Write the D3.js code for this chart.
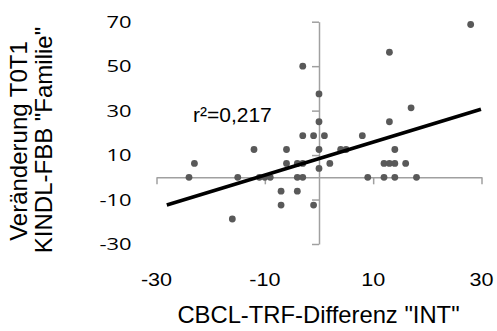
<!DOCTYPE html>
<html>
<head>
<meta charset="utf-8">
<script src="https://cdn.jsdelivr.net/npm/d3@7/dist/d3.min.js"></script>
<style>
  html, body { margin: 0; padding: 0; background: #fff; }
  svg { display: block; }
</style>
</head>
<body>
<svg id="chart" width="497" height="331"></svg>
<script>
// CBCL-TRF difference (INT) vs. change T0->T1 in KINDL-FBB "Familie"
const xVals = [28, 13, -3, 0, 17, 0, 13, -3, -1, 1, 8, -12, -6, 0, 4, 5, 14,
               -23, -6, -4, -3, 2, 12, 13, 14, 16, 0,
               -24, -15, -11, -10, -9, -4, -3, 9, 12, 14, 18,
               -7, -4, -7, -1, -16];
const yVals = [68.75, 56.25, 50, 37.5, 31.25, 25, 25, 18.75, 18.75, 18.75, 18.75,
               12.5, 12.5, 12.5, 12.5, 12.5, 12.5,
               6.25, 6.25, 6.25, 6.25, 6.25, 6.25, 6.25, 6.25, 6.25, 4,
               0, 0, 0, 0, 0, 0, 0, 0, 0, 0, 0,
               -6.25, -6.25, -12.5, -12.5, -18.75];

// Linear trend line
const trendSlope = 0.743;
const trendIntercept = 8.4;
const trendXRange = [-28.1, 29.9];
const rSquaredLabel = "r²=0,217";

const xTicks = [-30, -10, 10, 30];
const yTicks = [-30, -10, 10, 30, 50, 70];
const xTitle = 'CBCL-TRF-Differenz "INT"';
const yTitleLines = ["Veränderung T0T1", 'KINDL-FBB "Familie"'];

const svg = d3.select("#chart");
const axisColor = "#a0a0a0";
const dotColor = "#595959";
const sans = "'Liberation Sans', Arial, sans-serif";

const x = d3.scaleLinear().domain([-30, 30]).range([156.5, 481.5]);
const y = d3.scaleLinear().domain([-30, 70]).range([244, 21.7]);

// Axes crossing at the origin
const xAxis = d3.axisBottom(x).tickValues(xTicks).tickSize(7).tickSizeOuter(0).tickFormat("");
const yAxis = d3.axisLeft(y).tickValues(yTicks).tickSize(7).tickSizeOuter(0).tickFormat("");

const gx = svg.append("g").attr("transform", `translate(0,${y(0)})`).call(xAxis);
const gy = svg.append("g").attr("transform", `translate(${x(0)},0)`).call(yAxis);
[gx, gy].forEach(g => {
  g.select(".domain").attr("stroke", axisColor).attr("stroke-width", 1.5);
  g.selectAll(".tick line").attr("stroke", axisColor).attr("stroke-width", 1.5);
});

// Tick labels (outside the plot)
svg.append("g").selectAll("text").data(xTicks).join("text")
  .attr("transform", d => `translate(${x(d)},286) scale(1.2,1)`)
  .attr("text-anchor", "middle")
  .attr("font-family", sans)
  .attr("font-size", 18)
  .attr("fill", "#000")
  .text(d => d);

svg.append("g").selectAll("text").data(yTicks).join("text")
  .attr("transform", d => `translate(131.5,${y(d) + 6.3}) scale(1.29,1)`)
  .attr("text-anchor", "end")
  .attr("font-family", "'Open Sans', sans-serif")
  .attr("font-size", 17)
  .attr("fill", "#000")
  .text(d => d);

// Scatter points
const pts = xVals.map((v, i) => ({ x: v, y: yVals[i] }));
svg.append("g").selectAll("circle").data(pts).join("circle")
  .attr("cx", d => x(d.x))
  .attr("cy", d => y(d.y))
  .attr("r", 3.4)
  .attr("fill", dotColor);

// Trend line
const line = d3.line().x(d => x(d)).y(d => y(trendSlope * d + trendIntercept));
svg.append("path")
  .datum(trendXRange)
  .attr("d", line)
  .attr("fill", "none")
  .attr("stroke", "#000")
  .attr("stroke-width", 3.6);

// r² annotation
svg.append("text")
  .attr("x", 193)
  .attr("y", 122)
  .attr("font-family", sans)
  .attr("font-size", 21)
  .attr("fill", "#000")
  .text(rSquaredLabel);

// Axis titles
svg.append("text")
  .attr("x", 318.5)
  .attr("y", 323)
  .attr("text-anchor", "middle")
  .attr("font-family", sans)
  .attr("font-size", 23.8)
  .attr("fill", "#000")
  .text(xTitle);

const yTitlePos = [[27, 141], [52, 140]];
svg.append("g").selectAll("text").data(yTitleLines).join("text")
  .attr("transform", (d, i) => `translate(${yTitlePos[i][0]},${yTitlePos[i][1]}) rotate(-90)`)
  .attr("text-anchor", "middle")
  .attr("font-family", sans)
  .attr("font-size", 24)
  .attr("fill", "#000")
  .text(d => d);
</script>
</body>
</html>
